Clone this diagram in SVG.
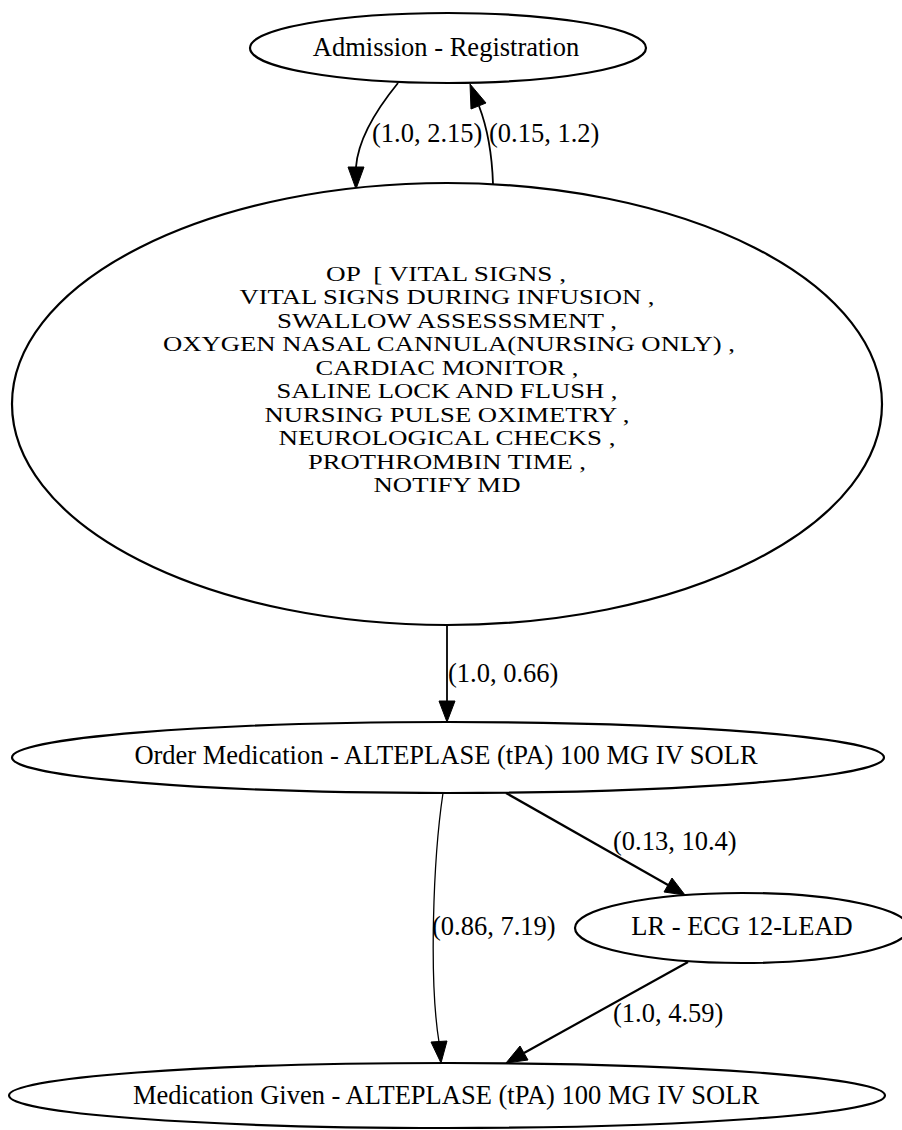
<svg xmlns="http://www.w3.org/2000/svg" width="902" height="1130" viewBox="0 0 902 1130">
<style>
  .node ellipse { fill: #ffffff; stroke: #000000; stroke-width: 2.2; }
  .node text { font-family: "Liberation Serif", "Times New Roman", serif; font-size: 26.5px; fill: #000000; text-anchor: middle; }
  .node .ml { font-size: 21px; }
  .edge path { fill: none; stroke: #000000; stroke-width: 1.8; }
  .edge polygon { fill: #000000; stroke: #000000; stroke-width: 1; }
  .elabel { font-family: "Liberation Serif", "Times New Roman", serif; font-size: 26.5px; fill: #000000; }
</style>
<rect x="0" y="0" width="902" height="1130" fill="#ffffff"/>

<g id="edges">
  <g class="edge" id="e1">
    <path d="M398,83 C376,110 358,140 356,167"/>
    <polygon points="348,167 364,167 356,189"/>
    <text class="elabel" x="372" y="142">(1.0, 2.15)</text>
  </g>
  <g class="edge" id="e2">
    <path d="M493,184 C492,152 487,127 479,106"/>
    <polygon points="471,109 486,103 470,84"/>
    <text class="elabel" x="489" y="142">(0.15, 1.2)</text>
  </g>
  <g class="edge" id="e3">
    <path d="M447,625 L447,701"/>
    <polygon points="439,701 455,701 447,722"/>
    <text class="elabel" x="448" y="682">(1.0, 0.66)</text>
  </g>
  <g class="edge" id="e4">
    <path d="M443,793 C433,860 429,980 439,1042" style="stroke-width:1.3"/>
    <polygon points="431,1042 447,1041 441,1063"/>
    <text class="elabel" x="432" y="935">(0.86, 7.19)</text>
  </g>
  <g class="edge" id="e5">
    <path d="M506,793 L668,885" style="stroke-width:2.2"/>
    <polygon points="664,892 672,878 685,895"/>
    <text class="elabel" x="613" y="850">(0.13, 10.4)</text>
  </g>
  <g class="edge" id="e6">
    <path d="M688,962 L524,1053" style="stroke-width:2.2"/>
    <polygon points="520,1046 528,1060 506,1063"/>
    <text class="elabel" x="613" y="1022">(1.0, 4.59)</text>
  </g>
</g>

<g class="node" id="n_admission">
  <ellipse cx="448" cy="48" rx="198" ry="35"/>
  <text x="446" y="56">Admission - Registration</text>
</g>

<g class="node" id="n_op">
  <ellipse cx="447" cy="404" rx="435" ry="221"/>
  <text class="ml" x="446" y="280.5" textLength="240" lengthAdjust="spacingAndGlyphs" xml:space="preserve">OP  [ VITAL SIGNS ,</text>
  <text class="ml" x="447" y="304" textLength="415" lengthAdjust="spacingAndGlyphs">VITAL SIGNS DURING INFUSION ,</text>
  <text class="ml" x="447" y="327.5" textLength="340" lengthAdjust="spacingAndGlyphs">SWALLOW ASSESSSMENT ,</text>
  <text class="ml" x="449" y="351" textLength="572" lengthAdjust="spacingAndGlyphs">OXYGEN NASAL CANNULA(NURSING ONLY) ,</text>
  <text class="ml" x="447" y="374.5" textLength="263" lengthAdjust="spacingAndGlyphs">CARDIAC MONITOR ,</text>
  <text class="ml" x="447" y="398" textLength="341" lengthAdjust="spacingAndGlyphs">SALINE LOCK AND FLUSH ,</text>
  <text class="ml" x="447" y="421.5" textLength="365" lengthAdjust="spacingAndGlyphs">NURSING PULSE OXIMETRY ,</text>
  <text class="ml" x="447" y="445" textLength="337" lengthAdjust="spacingAndGlyphs">NEUROLOGICAL CHECKS ,</text>
  <text class="ml" x="447" y="468.5" textLength="278" lengthAdjust="spacingAndGlyphs">PROTHROMBIN TIME ,</text>
  <text class="ml" x="447" y="492" textLength="147" lengthAdjust="spacingAndGlyphs">NOTIFY MD</text>
</g>

<g class="node" id="n_order">
  <ellipse cx="448" cy="757.5" rx="436" ry="35.5"/>
  <text x="446" y="764">Order Medication - ALTEPLASE (tPA) 100 MG IV SOLR</text>
</g>

<g class="node" id="n_lr">
  <ellipse cx="742" cy="928" rx="167" ry="35"/>
  <text x="742" y="935">LR - ECG 12-LEAD</text>
</g>

<g class="node" id="n_given">
  <ellipse cx="447" cy="1095.5" rx="438" ry="32.5"/>
  <text x="446" y="1104">Medication Given - ALTEPLASE (tPA) 100 MG IV SOLR</text>
</g>
</svg>
